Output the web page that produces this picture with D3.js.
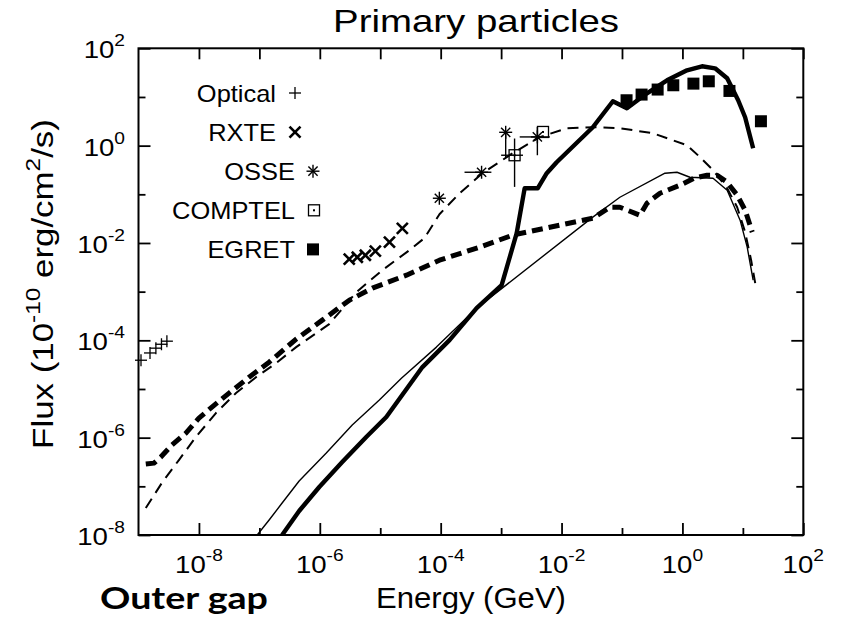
<!DOCTYPE html>
<html><head><meta charset="utf-8">
<script src="https://cdn.jsdelivr.net/npm/d3@7"></script>
<style>
body{margin:0;background:#fff;}
svg text{font-family:"Liberation Sans",Arial,Helvetica,sans-serif;fill:#000;}
</style></head><body>
<svg id="chart" width="843" height="619"></svg>
<script>
// ---------------- data (energy in GeV, flux in 1e-10 erg/cm^2/s) ----------------
const thickSolidE = [2.38e-7, 4.55e-7, 9.8e-7, 2.35e-6, 5.87e-6, 1.26e-5, 4.99e-5, 1.4e-4, 3.93e-4, 1.02e-3, 1.81e-3, 2.45e-3, 4.03e-3, 5.69e-3, 8.3e-3, 3.29e-2, 7.06e-2, 0.1205, 0.259, 0.556, 1.19, 2.11, 3.47, 5.5, 8.36, 10.9, 14.8];
const thickSolidF = [1e-8, 3.11e-8, 9.7e-8, 3.15e-7, 1.03e-6, 2.65e-6, 2.82e-5, 1.01e-4, 4.58e-4, 1.36e-3, 1.59e-2, 0.133, 0.133, 0.271, 0.456, 2.39, 8.16, 5.86, 11.9, 22.0, 35.3, 42.7, 38.8, 24.2, 8.55, 3.83, 0.885];

const thinSolidE = [9.2e-8, 1.45e-7, 2.38e-7, 4.55e-7, 1.28e-6, 3.44e-6, 9.66e-6, 2.24e-5, 8.5e-5, 3.93e-4, 3.29e-2, 9.23e-2, 0.514, 0.813, 1.33, 3.21, 5.5, 9.0, 11.8, 14.8];
const thinSolidF = [1e-8, 2.03e-8, 4.54e-8, 1.29e-7, 4.83e-7, 1.82e-6, 5.92e-6, 1.67e-5, 7.25e-5, 4.58e-4, 3.39e-2, 8.7e-2, 0.271, 0.284, 0.224, 0.214, 0.121, 2.94e-2, 8.2e-3, 1.72e-3];

const thickDashE = [1.32e-9, 1.8e-9, 2.34e-9, 3.56e-9, 6.08e-9, 1e-8, 1.64e-8, 3.15e-8, 6.75e-8, 1.45e-7, 4.06e-7, 1.1e-6, 3.08e-6, 7.4e-6, 2.71e-5, 9.55e-5, 4.4e-4, 1.55e-3, 3.29e-2, 6.31e-2, 9.23e-2, 0.198, 0.259, 0.425, 0.912, 1.56, 2.56, 3.75, 5.5, 8.05, 10.9, 14.3];
const thickDashF = [2.87e-7, 3.0e-7, 4.0e-7, 7.05e-7, 1.24e-6, 2.52e-6, 4.25e-6, 8.24e-6, 1.75e-5, 3.56e-5, 1.06e-4, 2.6e-4, 6.68e-4, 1.18e-3, 2.18e-3, 4.43e-3, 8.2e-3, 1.45e-2, 3.23e-2, 5.43e-2, 5.43e-2, 3.72e-2, 6.56e-2, 0.105, 0.154, 0.214, 0.247, 0.247, 0.177, 9.6e-2, 4.72e-2, 1.67e-2];

const thinDashE = [1.32e-9, 2.43e-9, 4.66e-9, 8.9e-9, 1.91e-8, 4.11e-8, 8.8e-8, 1.89e-7, 4.06e-7, 1.43e-6, 4.02e-6, 1.08e-5, 3.04e-5, 5.38e-5, 9.55e-5, 2.05e-4, 4.93e-4, 1.55e-3, 4.34e-3, 1.22e-2, 3.29e-2, 9.23e-2, 0.325, 1.19, 1.96, 3.21, 5.5, 8.05, 10.9, 13.7, 16.0];
const thinDashF = [3.58e-8, 1.17e-7, 3.47e-7, 1.03e-6, 3.2e-6, 8.24e-6, 1.75e-5, 3.4e-5, 7.24e-5, 2.15e-4, 9.77e-4, 2.76e-3, 7.1e-3, 1.26e-2, 3.9e-2, 0.105, 0.271, 0.698, 1.49, 2.28, 2.39, 2.28, 1.80, 1.02, 0.578, 0.313, 0.133, 5.43e-2, 1.67e-2, 4.43e-3, 1.5e-3];

const opticalE = [1.1e-9, 1.55e-9, 1.94e-9, 2.4e-9, 2.95e-9];
const opticalF = [3.9e-5, 5.5e-5, 6.9e-5, 8.3e-5, 9.6e-5];

const rxteE = [3.07e-6, 4.17e-6, 5.67e-6, 8.3e-6, 1.42e-5, 2.32e-5];
const rxteF = [4.65e-3, 5.1e-3, 5.6e-3, 6.8e-3, 1.04e-2, 2.0e-2];

const osseE    = [9.5e-5, 4.75e-4, 1.19e-3, 3.98e-3];
const osseF    = [8.3e-2, 0.284, 1.88, 1.51];
const osseElo  = [null, 2.48e-4, null, 2.03e-3];
const osseEhi  = [null, 6.9e-4, null, 6.4e-3];
const osseFlo  = [null, null, 0.578, 0.635];
const osseFhi  = [null, null, 1.88, 2.42];

const comptelE   = [1.67e-3, 4.93e-3];
const comptelF   = [0.635, 1.91];
const comptelElo = [1.0e-3, null];
const comptelEhi = [2.3e-3, null];
const comptelFlo = [0.142, null];
const comptelFhi = [1.40, null];

const egretE = [0.119, 0.211, 0.389, 0.706, 1.52, 2.73, 6.0, 19.9];
const egretF = [8.56, 11.2, 14.2, 17.4, 18.8, 21.0, 13.3, 3.17];

const legendLabels  = ["Optical", "RXTE", "OSSE", "COMPTEL", "EGRET"];
const legendSymbols = ["plus", "cross", "star", "box", "filled"];

const xMajorTicks = [1e-8, 1e-6, 1e-4, 1e-2, 1e0, 1e2];
const xMajorExps  = ["-8", "-6", "-4", "-2", "0", "2"];
const xMinorTicks = [1e-7, 1e-5, 1e-3, 1e-1, 1e1];
const yMajorTicks = [1e-8, 1e-6, 1e-4, 1e-2, 1e0, 1e2];
const yMajorExps  = ["-8", "-6", "-4", "-2", "0", "2"];
const yMinorTicks = [1e-7, 1e-5, 1e-3, 1e-1, 1e1];

// ---------------- drawing ----------------
const svg = d3.select("#chart");
const L = 138.5, R = 803.3, T = 48.3, B = 535;
const x = d3.scaleLog().domain([1e-9, 1e2]).range([L, R]);
const y = d3.scaleLog().domain([1e-8, 1e2]).range([B, T]);

svg.append("rect").attr("width", 843).attr("height", 619).attr("fill", "#fff");

svg.append("defs").append("clipPath").attr("id", "clip")
  .append("rect").attr("x", L).attr("y", T).attr("width", R - L).attr("height", B - T);

// ticks
function tickAxis(axisFn, scale, vals, size, transform) {
  const g = svg.append("g").attr("transform", transform)
    .call(axisFn(scale).tickValues(vals).tickSizeInner(-size).tickSizeOuter(0).tickFormat(""));
  g.select(".domain").remove();
  g.selectAll(".tick line").attr("stroke", "#000").attr("stroke-width", 1.8);
}
tickAxis(d3.axisBottom, x, xMajorTicks, 12, `translate(0,${B})`);
tickAxis(d3.axisBottom, x, xMinorTicks, 7, `translate(0,${B})`);
tickAxis(d3.axisTop, x, xMajorTicks, 11, `translate(0,${T})`);
tickAxis(d3.axisTop, x, xMinorTicks, 11, `translate(0,${T})`);
tickAxis(d3.axisLeft, y, yMajorTicks, 12, `translate(${L},0)`);
tickAxis(d3.axisLeft, y, yMinorTicks, 7, `translate(${L},0)`);
tickAxis(d3.axisRight, y, yMajorTicks, 12, `translate(${R},0)`);
tickAxis(d3.axisRight, y, yMinorTicks, 7, `translate(${R},0)`);

// frame
svg.append("rect").attr("x", L).attr("y", T).attr("width", R - L).attr("height", B - T)
  .attr("fill", "none").attr("stroke", "#000").attr("stroke-width", 2);

// tick labels
function powLabel(g, exp, anchor) {
  const t = g.append("text").attr("text-anchor", anchor).attr("font-size", 23);
  t.append("tspan").text("10");
  t.append("tspan").attr("font-size", 16).attr("dy", -12).text(exp);
  return t;
}
xMajorTicks.forEach((v, i) => {
  const g = svg.append("g").attr("transform", `translate(${x(v)},${B + 38}) scale(1.2,1)`);
  powLabel(g, xMajorExps[i], "middle");
});
yMajorTicks.forEach((v, i) => {
  const g = svg.append("g").attr("transform", `translate(125,${y(v) + 10}) scale(1.2,1)`);
  powLabel(g, yMajorExps[i], "end");
});

// curves
const curves = svg.append("g").attr("clip-path", "url(#clip)");
const line = d3.line().x(d => x(d[0])).y(d => y(d[1]));
function drawCurve(E, F, width, dash) {
  curves.append("path").datum(E.map((e, i) => [e, F[i]]))
    .attr("d", line).attr("fill", "none").attr("stroke", "#000")
    .attr("stroke-width", width).attr("stroke-dasharray", dash)
    .attr("stroke-linejoin", "round");
}
drawCurve(thinDashE, thinDashF, 2, "11,7");
drawCurve(thickDashE, thickDashF, 5, "11,6");
drawCurve(thinSolidE, thinSolidF, 1.4, null);
drawCurve(thickSolidE, thickSolidF, 4.4, null);

// markers
function marker(g, type, cx, cy) {
  const ln = (x1, y1, x2, y2, w) => g.append("line").attr("x1", x1).attr("y1", y1).attr("x2", x2).attr("y2", y2)
    .attr("stroke", "#000").attr("stroke-width", w);
  if (type === "plus") { ln(cx - 6, cy, cx + 6, cy, 1.3); ln(cx, cy - 6, cx, cy + 6, 1.3); }
  else if (type === "cross") { ln(cx - 5.5, cy - 5.5, cx + 5.5, cy + 5.5, 2.6); ln(cx - 5.5, cy + 5.5, cx + 5.5, cy - 5.5, 2.6); }
  else if (type === "star") {
    ln(cx - 6.5, cy, cx + 6.5, cy, 1.4); ln(cx, cy - 6.5, cx, cy + 6.5, 1.4);
    ln(cx - 4.6, cy - 4.6, cx + 4.6, cy + 4.6, 1.4); ln(cx - 4.6, cy + 4.6, cx + 4.6, cy - 4.6, 1.4);
  }
  else if (type === "box") {
    g.append("rect").attr("x", cx - 5.5).attr("y", cy - 5.5).attr("width", 11).attr("height", 11)
      .attr("fill", "none").attr("stroke", "#000").attr("stroke-width", 1.3);
    g.append("rect").attr("x", cx - 1).attr("y", cy - 1).attr("width", 2).attr("height", 2).attr("fill", "#000");
  }
  else if (type === "filled") {
    g.append("rect").attr("x", cx - 6).attr("y", cy - 6).attr("width", 12).attr("height", 12).attr("fill", "#000");
  }
}
function errBars(g, E, F, Elo, Ehi, Flo, Fhi) {
  E.forEach((e, i) => {
    if (Elo[i] != null) g.append("line").attr("x1", x(Elo[i])).attr("x2", x(Ehi[i])).attr("y1", y(F[i])).attr("y2", y(F[i]))
      .attr("stroke", "#000").attr("stroke-width", 1.4);
    if (Flo[i] != null) g.append("line").attr("x1", x(e)).attr("x2", x(e)).attr("y1", y(Flo[i])).attr("y2", y(Fhi[i]))
      .attr("stroke", "#000").attr("stroke-width", 1.4);
  });
}
const pts = svg.append("g");
opticalE.forEach((e, i) => marker(pts, "plus", x(e), y(opticalF[i])));
rxteE.forEach((e, i) => marker(pts, "cross", x(e), y(rxteF[i])));
errBars(pts, osseE, osseF, osseElo, osseEhi, osseFlo, osseFhi);
osseE.forEach((e, i) => marker(pts, "star", x(e), y(osseF[i])));
errBars(pts, comptelE, comptelF, comptelElo, comptelEhi, comptelFlo, comptelFhi);
comptelE.forEach((e, i) => marker(pts, "box", x(e), y(comptelF[i])));
egretE.forEach((e, i) => marker(pts, "filled", x(e), y(egretF[i])));

// legend
const legTextX = [276, 276, 295, 295, 295];
const legSymX  = [295, 295, 313, 314, 313];
legendLabels.forEach((lab, i) => {
  const cy = 93 + i * 39.1;
  const g = svg.append("g").attr("transform", `translate(${legTextX[i]},${cy + 8.6}) scale(1.06,1)`);
  g.append("text").attr("text-anchor", "end").attr("font-size", 24).text(lab);
  marker(svg, legendSymbols[i], legSymX[i], cy);
});

// fit helper
function fitted(parent, tx, ty, rot, targetW, build) {
  const g = parent.append("g");
  const t = build(g);
  const w = t.node().getBBox().width;
  const s = targetW / w;
  g.attr("transform", `translate(${tx},${ty}) rotate(${rot}) scale(${s},1)`);
  return g;
}

// title
fitted(svg, 476, 32, 0, 286, g => g.append("text").attr("text-anchor", "middle").attr("font-size", 32).text("Primary particles"));

// x label
fitted(svg, 471, 608, 0, 190, g => g.append("text").attr("text-anchor", "middle").attr("font-size", 30).text("Energy (GeV)"));

// y label
fitted(svg, 53, 284, -90, 330, g => {
  const t = g.append("text").attr("text-anchor", "middle").attr("font-size", 30);
  t.append("tspan").text("Flux (10");
  t.append("tspan").attr("font-size", 21).attr("dy", -13).text("-10");
  t.append("tspan").attr("dy", 13).text(" erg/cm");
  t.append("tspan").attr("font-size", 21).attr("dy", -13).text("2");
  t.append("tspan").attr("dy", 13).text("/s)");
  return t;
});

// Outer gap
fitted(svg, 100, 609, 0, 168, g => g.append("text").attr("text-anchor", "start")
  .style("font-family", "Lato, 'Open Sans', sans-serif").attr("font-weight", 700).attr("font-size", 30).text("Outer gap"));
</script>
</body></html>
